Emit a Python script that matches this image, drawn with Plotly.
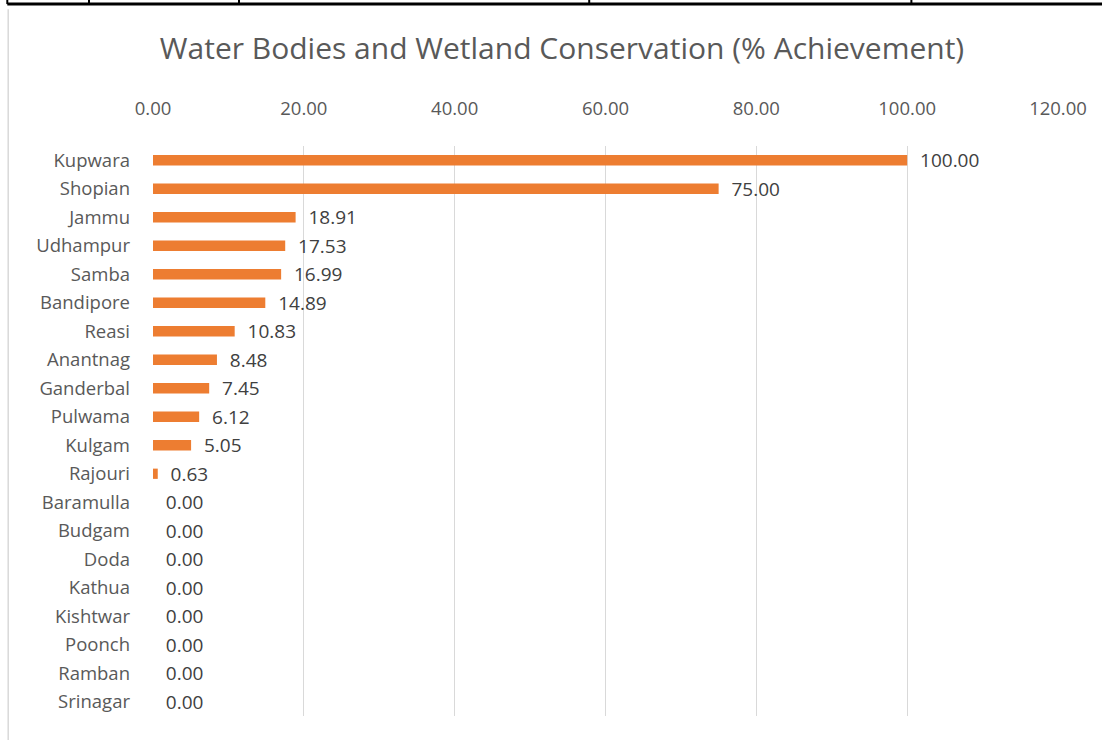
import plotly.graph_objects as go

# Datos
distritos = ['Kupwara', 'Shopian', 'Jammu', 'Udhampur', 'Samba', 'Bandipore', 'Reasi',
             'Anantnag', 'Ganderbal', 'Pulwama', 'Kulgam', 'Rajouri', 'Baramulla', 'Budgam',
             'Doda', 'Kathua', 'Kishtwar', 'Poonch', 'Ramban', 'Srinagar']
logro = [100.00, 75.00, 18.91, 17.53, 16.99, 14.89, 10.83, 8.48, 7.45, 6.12, 5.05, 0.63,
         0.00, 0.00, 0.00, 0.00, 0.00, 0.00, 0.00, 0.00]
ticks_x = [0, 20, 40, 60, 80, 100, 120]

NARANJA = '#ED7D31'
GRIS_TEXTO = '#595959'
FUENTE = 'Open Sans, sans-serif'

fig = go.Figure()

fig.add_trace(go.Bar(
    x=logro,
    y=distritos,
    orientation='h',
    marker=dict(color=NARANJA, line=dict(width=0)),
    text=[f'\u00a0\u00a0{v:.2f}' for v in logro],
    textposition='outside',
    constraintext='none',
    textfont=dict(size=19, color='#404040', family=FUENTE),
    cliponaxis=False,
    hovertemplate='%{y}: %{x:.2f}<extra></extra>',
))

fig.update_layout(
    title=dict(
        text='Water Bodies and Wetland Conservation (% Achievement)',
        x=0.51, xanchor='center', y=0.935, yanchor='middle',
        font=dict(size=30, color=GRIS_TEXTO, family=FUENTE),
    ),
    xaxis=dict(
        side='top',
        range=[0, 120],
        tickvals=ticks_x,
        ticktext=[f'{t:.2f}' for t in ticks_x],
        tickfont=dict(size=18.5, color=GRIS_TEXTO, family=FUENTE),
        showgrid=True, gridcolor='#D9D9D9', gridwidth=1,
        zeroline=False, showline=False,
        ticks='', ticklabelstandoff=26,
    ),
    yaxis=dict(
        autorange='reversed',
        tickfont=dict(size=18.5, color=GRIS_TEXTO, family=FUENTE),
        showgrid=False, zeroline=False, showline=False,
        ticks='', ticklabelstandoff=22,
    ),
    bargap=0.64,
    showlegend=False,
    plot_bgcolor='white',
    paper_bgcolor='white',
    width=1102, height=740,
    margin=dict(t=146, l=153, r=44, b=24),
    shapes=[
        # borde superior de las celdas
        dict(type='line', xref='paper', yref='paper', x0=-0.161, x1=1.06, y0=1.249, y1=1.249,
             line=dict(color='black', width=3)),
        *[dict(type='line', xref='paper', yref='paper', x0=xp, x1=xp, y0=1.249, y1=1.258,
               line=dict(color='black', width=2)) for xp in [-0.161, -0.0707, 0.095, 0.482, 0.838]],
        # borde izquierdo del área del gráfico
        dict(type='line', xref='paper', yref='paper', x0=-0.160, x1=-0.160, y0=-0.05, y1=1.24,
             line=dict(color='#D9D9D9', width=1.5)),
    ],
)

fig.write_html('out.html', config={'displayModeBar': False},
               post_script="document.body.style.margin='0';")
